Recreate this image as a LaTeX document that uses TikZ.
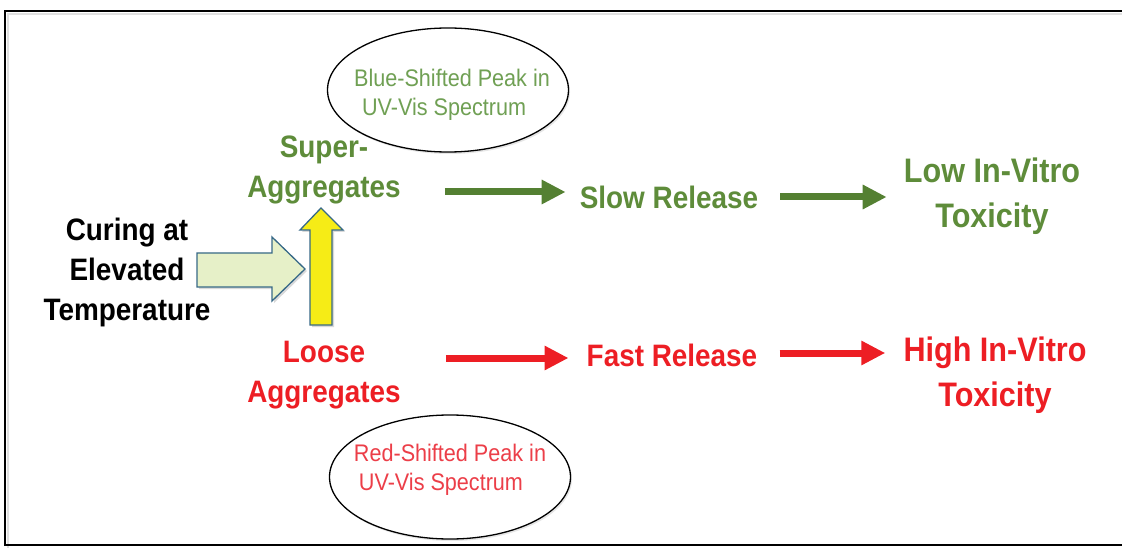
\documentclass[tikz,border=0pt]{standalone}
\usepackage{fontspec}
\setmainfont{Liberation Sans}[FakeStretch=0.9]
\usetikzlibrary{arrows.meta,shapes.geometric,shadows}
\definecolor{tgreen}{RGB}{94,140,58}
\definecolor{agreen}{RGB}{84,128,50}
\definecolor{tred}{RGB}{237,30,36}
\definecolor{egreen}{RGB}{112,160,84}
\definecolor{ered}{RGB}{236,62,72}
\definecolor{bborder}{RGB}{55,105,135}
\definecolor{lgfill}{RGB}{230,240,200}
\definecolor{yfill}{RGB}{246,236,22}
\begin{document}
\begin{tikzpicture}[x=1pt,y=-1pt,
  lbl/.style={font=\fontsize{31}{40}\selectfont\bfseries, align=center, inner sep=0pt},
  biglbl/.style={font=\fontsize{34}{45}\selectfont\bfseries, align=center, inner sep=0pt},
  oval/.style={draw=black, fill=white, line width=1.3pt, ellipse, minimum width=241pt, minimum height=124pt, inner sep=0pt,
    drop shadow={opacity=0.2, shadow xshift=1.5pt, shadow yshift=-2pt}},
  ovaltext/.style={align=left, inner sep=0pt, font=\fontsize{24}{30}\selectfont},
  garrow/.style={draw=agreen, line width=7pt, -{Triangle[length=24pt,width=23pt]}},
  rarrow/.style={draw=tred, line width=7pt, -{Triangle[length=24pt,width=23pt]}},
  blockarrow/.style={draw=bborder, line width=1.3pt, line join=miter, drop shadow={opacity=0.3, shadow xshift=2pt, shadow yshift=-2pt}}]
\useasboundingbox (0,0) rectangle (1122,548);
% frame
\draw[black!12, line width=2pt] (1130,14) -- (8,14) -- (8,548);
\draw[black, line width=2.6pt] (1130,11) -- (5,11) -- (5,545) -- (1130,545);

% ellipses
\node[oval] (blue) at (448,90) {};
\node[ovaltext, text=egreen] (bluetxt) at (452,95) {Blue-Shifted Peak in\\[-1pt]\hspace*{8pt}UV-Vis Spectrum};
\node[oval] (red) at (450,477) {};
\node[ovaltext, text=ered] (redtxt) at (450,470) {Red-Shifted Peak in\\[-1pt]\hspace*{5pt}UV-Vis Spectrum};

% labels
\node[lbl] (curing) at (127,272) {Curing at\\Elevated\\Temperature};
\node[lbl, text=tgreen] (super) at (324,170) {Super-\\Aggregates};
\node[lbl, text=tred] (loose) at (324,375) {Loose\\Aggregates};
\node[lbl, text=tgreen] (slow) at (669,197) {Slow Release};
\node[lbl, text=tred] (fast) at (672,355) {Fast Release};
\node[biglbl, text=tgreen] (low) at (992,196) {Low In-Vitro\\Toxicity};
\node[biglbl, text=tred] (high) at (995,375) {High In-Vitro\\Toxicity};

% block arrows
\filldraw[blockarrow, fill=lgfill] (197,253) -- (272,253) -- (272,237) -- (305,269) -- (272,301) -- (272,287) -- (197,287) -- cycle;
\filldraw[blockarrow, fill=yfill] (310,325) -- (310,230) -- (300,230) -- (321,208) -- (343,230) -- (332,230) -- (332,325) -- cycle;

% connectors
\draw[garrow, shorten <=44pt, shorten >=14pt] ([yshift=-22pt]super.east) -- ([yshift=5pt]slow.west);
\draw[garrow, shorten <=22pt, shorten >=17pt] (slow.east) -- ([yshift=-1pt]low.west);
\draw[rarrow, shorten <=45pt, shorten >=18pt] ([yshift=17pt]loose.east) -- ([yshift=-3pt]fast.west);
\draw[rarrow, shorten <=22pt, shorten >=18pt] ([yshift=2pt]fast.east) -- ([yshift=22pt]high.west);
\end{tikzpicture}
\end{document}
